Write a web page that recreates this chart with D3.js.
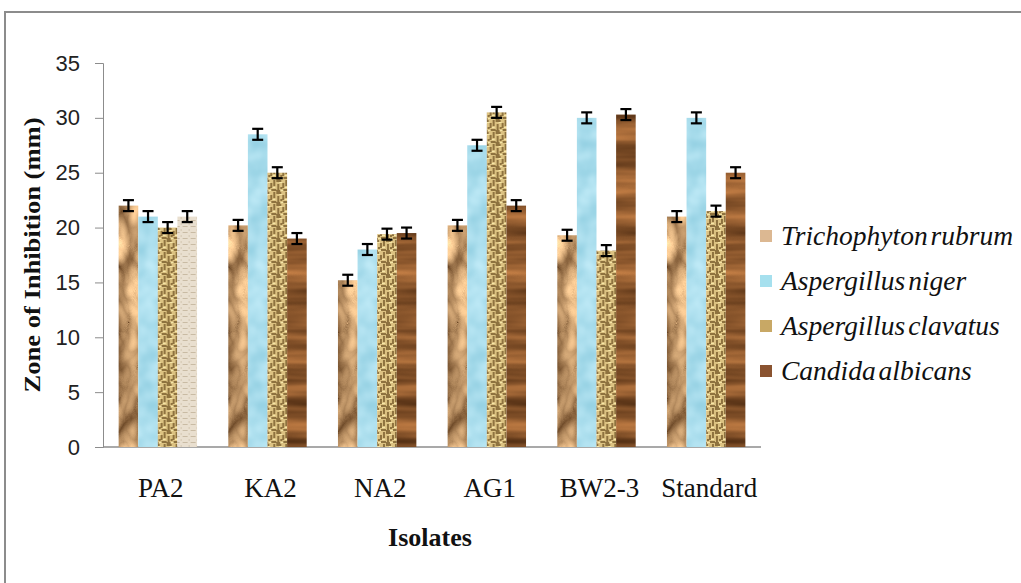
<!DOCTYPE html>
<html>
<head>
<meta charset="utf-8">
<script src="https://cdn.jsdelivr.net/npm/d3@7.9.0/dist/d3.min.js"></script>
<style>
  body { margin: 0; background: #fff; }
  svg { display: block; }
</style>
</head>
<body>
<svg id="chart" width="1021" height="583"></svg>
<script>
// ---- data ----
const isolates = ['PA2', 'KA2', 'NA2', 'AG1', 'BW2-3', 'Standard'];
const species  = ['Trichophyton rubrum', 'Aspergillus niger', 'Aspergillus clavatus', 'Candida albicans'];
const trichophyton = [22, 20.2, 15.2, 20.2, 19.3, 21];
const niger        = [21, 28.5, 18, 27.5, 30, 30];
const clavatus     = [20, 25, 19.4, 30.5, 17.9, 21.5];
const candida      = [21, 19, 19.5, 22, 30.3, 25];
const errBar = 0.5;
const yTicks = [0, 5, 10, 15, 20, 25, 30, 35];

const series = [trichophyton, niger, clavatus, candida];
const legendFills = ['#dcb892', '#a6e0ee', '#c8a865', '#8a5330'];
const serif = "'Liberation Serif', 'DejaVu Serif', serif";

const svg = d3.select('#chart');
const defs = svg.append('defs');

/* ---- textures: noise filters, out = c + g * noise ---- */
function mkFilter(id, type, freq, oct, seed, c, g) {
  const f = defs.append('filter').attr('id', id)
    .attr('x', 0).attr('y', 0).attr('width', 1).attr('height', 1)
    .attr('color-interpolation-filters', 'sRGB');
  f.append('feTurbulence').attr('type', type).attr('baseFrequency', freq)
    .attr('numOctaves', oct).attr('seed', seed).attr('result', 'n');
  const m = [
    g[0], 0, 0, 0, c[0],
    g[1], 0, 0, 0, c[1],
    g[2], 0, 0, 0, c[2],
    0, 0, 0, 0, 1
  ];
  f.append('feColorMatrix').attr('in', 'n').attr('type', 'matrix').attr('values', m.join(' ')).attr('result', 'c');
  f.append('feComposite').attr('in', 'c').attr('in2', 'SourceGraphic').attr('operator', 'in');
}
mkFilter('f-tri', 'turbulence', '0.025 0.015', 3, 7, [0.42, 0.28, 0.15], [1.3, 1.2, 1.0]);
mkFilter('f-nig', 'fractalNoise', '0.05', 2, 3, [0.52, 0.78, 0.86], [0.30, 0.18, 0.14]);
mkFilter('f-can', 'fractalNoise', '0.006 0.07', 3, 11, [0.22, 0.11, 0.03], [0.68, 0.48, 0.30]);

// woven pattern for A. clavatus
const pc = defs.append('pattern').attr('id', 'p-cla').attr('patternUnits', 'userSpaceOnUse')
  .attr('width', 12).attr('height', 12);
pc.append('rect').attr('width', 12).attr('height', 12).attr('fill', '#dcc282');
[[0, 0, 5, 2], [6, 3, 2, 5], [1, 4, 2, 6], [7, 9, 5, 2], [4, 7, 2, 2], [9, 0, 2, 6], [0, 10, 4, 2]]
  .forEach(r => pc.append('rect').attr('x', r[0]).attr('y', r[1]).attr('width', r[2]).attr('height', r[3]).attr('fill', '#7a5e2e').attr('opacity', 0.8));
[[3, 2, 3, 1], [8, 7, 3, 1], [4, 10, 3, 1]]
  .forEach(r => pc.append('rect').attr('x', r[0]).attr('y', r[1]).attr('width', r[2]).attr('height', r[3]).attr('fill', '#f6e6a8'));

// canvas pattern for the odd PA2 bar
const pl = defs.append('pattern').attr('id', 'p-lin').attr('patternUnits', 'userSpaceOnUse')
  .attr('width', 8).attr('height', 6);
pl.append('rect').attr('width', 8).attr('height', 6).attr('fill', '#e9dfcf');
pl.append('rect').attr('y', 4).attr('width', 5).attr('height', 1).attr('fill', '#c9bba4');
pl.append('rect').attr('x', 6).attr('y', 1).attr('width', 1).attr('height', 2).attr('fill', '#d3c6b0');

/* ---- frame ---- */
svg.append('rect').attr('x', 5).attr('y', 12).attr('width', 1100).attr('height', 700)
  .attr('fill', 'none').attr('stroke', '#8c8c8c').attr('stroke-width', 2);

/* ---- scales ---- */
const x = d3.scaleBand().domain(isolates).range([103, 761]);
const y = d3.scaleLinear().domain([0, 35]).range([447, 63]);
const barW = 19.6;
const groupW = barW * species.length;

/* ---- axes ---- */
const yAxis = svg.append('g').attr('transform', 'translate(103,0)')
  .call(d3.axisLeft(y).tickValues(yTicks).tickSize(8).tickPadding(15));
yAxis.select('.domain').attr('stroke', '#8c8c8c');
yAxis.selectAll('.tick line').attr('stroke', '#8c8c8c');
yAxis.selectAll('.tick text').attr('font-family', "'Liberation Sans', Arial, sans-serif")
  .attr('font-size', 22).attr('fill', '#222');

svg.append('line').attr('x1', x.range()[0]).attr('x2', x.range()[1])
  .attr('y1', y(0)).attr('y2', y(0)).attr('stroke', '#8c8c8c').attr('stroke-width', 1.5);

/* ---- bars ---- */
const groups = svg.append('g').selectAll('g').data(isolates).join('g')
  .attr('transform', d => `translate(${x(d) + (x.bandwidth() - groupW) / 2},0)`);

groups.each(function (iso, i) {
  const g = d3.select(this);
  series.forEach((vals, s) => {
    const v = vals[i];
    const bx = s * barW;
    const rect = g.append('rect').attr('x', bx).attr('y', y(v))
      .attr('width', barW).attr('height', y(0) - y(v));
    if (s === 3 && i === 0) rect.attr('fill', 'url(#p-lin)');
    else if (s === 2) rect.attr('fill', 'url(#p-cla)');
    else rect.attr('fill', '#fff').attr('filter', ['url(#f-tri)', 'url(#f-nig)', null, 'url(#f-can)'][s]);
    // error bar
    const cx = bx + barW / 2;
    const eb = g.append('g').attr('stroke', '#000').attr('stroke-width', 2.2);
    eb.append('line').attr('x1', cx).attr('x2', cx).attr('y1', y(v + errBar)).attr('y2', y(v - errBar));
    eb.append('line').attr('x1', cx - 5.5).attr('x2', cx + 5.5).attr('y1', y(v + errBar)).attr('y2', y(v + errBar));
    eb.append('line').attr('x1', cx - 5.5).attr('x2', cx + 5.5).attr('y1', y(v - errBar)).attr('y2', y(v - errBar));
  });
});

/* ---- category labels ---- */
svg.append('g').selectAll('text').data(isolates).join('text')
  .attr('x', d => x(d) + x.bandwidth() / 2 + 3).attr('y', 497)
  .attr('text-anchor', 'middle')
  .attr('font-family', serif).attr('font-size', 27)
  .attr('fill', '#111').text(d => d);

/* ---- axis titles ---- */
svg.append('text').attr('x', 430).attr('y', 546).attr('text-anchor', 'middle')
  .attr('font-family', serif).attr('font-weight', 'bold')
  .attr('font-size', 26).attr('fill', '#111').text('Isolates');

svg.append('text').attr('transform', 'translate(40,255) rotate(-90)').attr('text-anchor', 'middle')
  .attr('font-family', serif).attr('font-weight', 'bold')
  .attr('font-size', 24).attr('fill', '#111')
  .attr('textLength', 275).attr('lengthAdjust', 'spacingAndGlyphs')
  .text('Zone of Inhibition (mm)');

/* ---- legend ---- */
const legend = svg.append('g').selectAll('g').data(species).join('g')
  .attr('transform', (d, i) => `translate(760,${236 + i * 45})`);
legend.append('rect').attr('x', 0).attr('y', -6).attr('width', 12).attr('height', 12)
  .attr('fill', (d, i) => legendFills[i]);
legend.append('text').attr('x', 21).attr('y', 9)
  .attr('font-family', serif).attr('font-style', 'italic')
  .attr('font-size', 27.5).attr('fill', '#111').attr('word-spacing', -4)
  .text(d => d);
</script>
</body>
</html>
